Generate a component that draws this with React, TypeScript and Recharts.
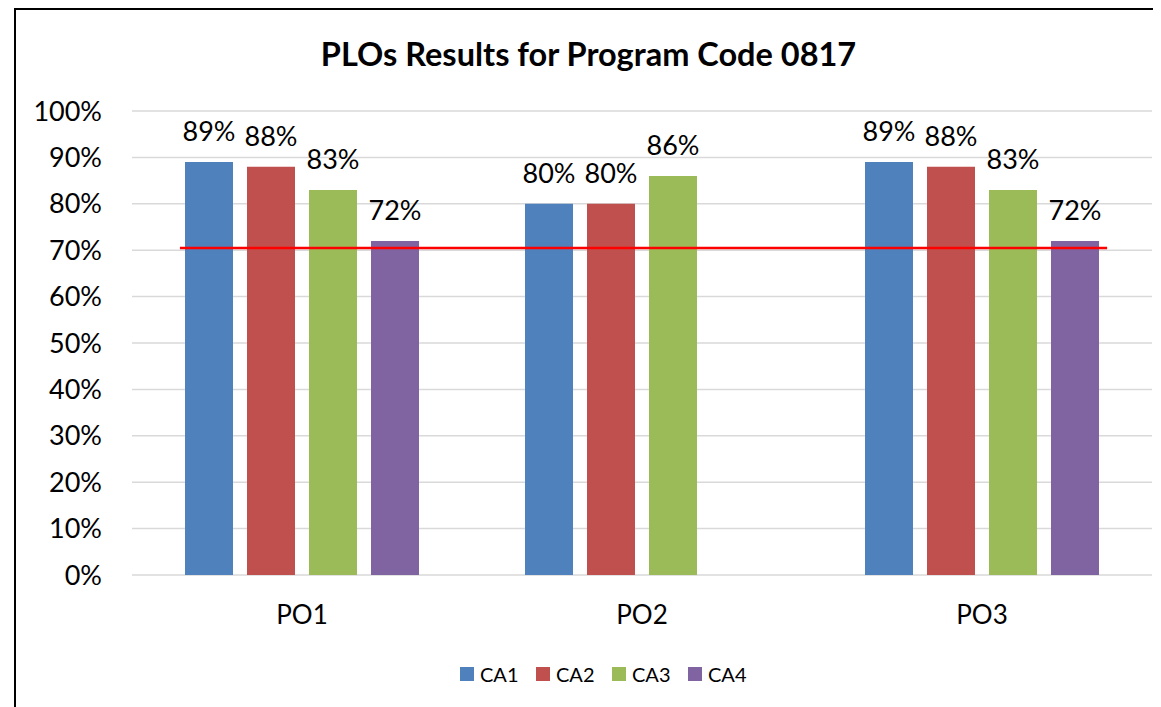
import {
  Bar,
  BarChart,
  CartesianGrid,
  LabelList,
  ReferenceLine,
  XAxis,
  YAxis,
} from 'recharts';

const categories = ['PO1', 'PO2', 'PO3'];
const ca1 = [89, 80, 89];
const ca2 = [88, 80, 88];
const ca3 = [83, 86, 83];
const ca4: (number | null)[] = [72, null, 72];
const yTicks = [0, 10, 20, 30, 40, 50, 60, 70, 80, 90, 100];
const targetLevel = 70.5;
// start / end of the target line, as a fraction of the plot width
const targetSpan = [0.047, 0.956];

const series = [
  { key: 'CA1', color: '#4F81BD' },
  { key: 'CA2', color: '#C0504D' },
  { key: 'CA3', color: '#9BBB59' },
  { key: 'CA4', color: '#8064A2' },
];

const rows = categories.map((name, i) => ({
  name,
  CA1: ca1[i],
  CA2: ca2[i],
  CA3: ca3[i],
  CA4: ca4[i],
}));

const FONT = 'Lato, "Open Sans", sans-serif';

function TargetLine(props: any) {
  const { x1, x2, y1 } = props;
  const w = x2 - x1;
  return (
    <line
      x1={x1 + w * targetSpan[0]}
      x2={x1 + w * targetSpan[1]}
      y1={y1}
      y2={y1}
      stroke="#FF0000"
      strokeWidth={2.5}
    />
  );
}

export default function App() {
  return (
    <div
      style={{
        position: 'relative',
        width: 1147,
        height: 699,
        marginLeft: 6,
        borderLeft: '2px solid #000',
        borderTop: '2px solid #000',
        boxSizing: 'border-box',
        fontFamily: FONT,
        background: '#fff',
      }}
    >
      <style>{'body{overflow:hidden}'}</style>
      <div
        style={{
          position: 'absolute',
          top: 25,
          left: 0,
          width: 1145,
          textAlign: 'center',
          fontSize: 32.5,
          lineHeight: '38px',
          fontWeight: 700,
          color: '#000',
        }}
      >
        PLOs Results for Program Code 0817
      </div>
      <BarChart
        width={1145}
        height={688}
        data={rows}
        margin={{ top: 101, right: 9, left: 0, bottom: 93 }}
        barCategoryGap={53}
        barGap={14}
      >
        <CartesianGrid vertical={false} stroke="#D9D9D9" strokeWidth={1.5} />
        <XAxis
          dataKey="name"
          height={30}
          axisLine={false}
          tickLine={false}
          tickMargin={25}
          tick={{ fill: '#000', fontSize: 26, fontFamily: FONT }}
        />
        <YAxis
          width={116}
          domain={[0, 100]}
          ticks={yTicks}
          interval={0}
          axisLine={false}
          tickLine={false}
          tickMargin={24}
          tickFormatter={(v: number) => `${v}%`}
          tick={{ fill: '#000', fontSize: 27, fontFamily: FONT }}
        />
        {series.map((s) => (
          <Bar key={s.key} dataKey={s.key} fill={s.color} isAnimationActive={false}>
            <LabelList
              dataKey={s.key}
              position="top"
              offset={21}
              formatter={(v: any) => (v == null ? '' : `${v}%`)}
              style={{ fill: '#000', fontSize: 27, fontFamily: FONT }}
            />
          </Bar>
        ))}
        <ReferenceLine y={targetLevel} stroke="#FF0000" shape={TargetLine} />
      </BarChart>
      <div
        style={{
          position: 'absolute',
          top: 652,
          left: 444,
          height: 24,
          display: 'flex',
          alignItems: 'center',
          fontSize: 20,
          color: '#000',
        }}
      >
        {series.map((s) => (
          <div key={s.key} style={{ display: 'flex', alignItems: 'center', width: 76 }}>
            <span style={{ width: 14, height: 14, background: s.color, marginRight: 6 }} />
            <span>{s.key}</span>
          </div>
        ))}
      </div>
    </div>
  );
}
